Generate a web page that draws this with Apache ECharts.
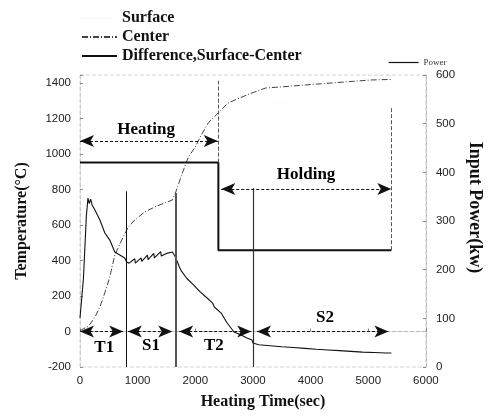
<!DOCTYPE html>
<html>
<head>
<meta charset="utf-8">
<script src="https://cdn.jsdelivr.net/npm/echarts@6/dist/echarts.min.js"></script>
<style>
html,body{margin:0;padding:0;background:#fff;}
#chart{width:492px;height:420px;}
</style>
</head>
<body>
<div id="chart"></div>
<script>
// ---------- data (time in sec, temperature in °C, power in kW) ----------
const xTicks = [0, 1000, 2000, 3000, 4000, 5000, 6000];
const tempTicks = [-200, 0, 200, 400, 600, 800, 1000, 1200, 1400];
const powerTicks = [0, 100, 200, 300, 400, 500, 600];

const surfaceData = [
  [0, 80], [150, 790], [400, 800], [800, 960], [1200, 1080], [1660, 1220],
  [2000, 1290], [2400, 1300], [3000, 1280], [4000, 1290], [5400, 1296]
];

const centerData = [
  [0, 5], [150, 30], [260, 82], [345, 138], [430, 217], [517, 307], [603, 431],
  [724, 515], [828, 583], [948, 628], [1121, 673], [1293, 701], [1466, 724],
  [1603, 741], [1655, 780], [1776, 893], [1879, 983], [2000, 1039], [2086, 1096],
  [2224, 1175], [2397, 1231], [2569, 1287], [2810, 1321], [2983, 1344],
  [3224, 1372], [3500, 1378], [3914, 1389], [4362, 1400], [5052, 1417], [5400, 1420]
];

const differenceData = [
  [0, 76], [60, 300], [110, 650], [138, 752], [160, 720], [185, 745], [210, 713],
  [259, 684], [345, 628], [431, 555], [517, 515], [603, 448], [690, 431],
  [776, 414], [810, 392], [850, 385], [950, 410], [960, 385], [1060, 415],
  [1070, 395], [1170, 430], [1180, 405], [1280, 440], [1290, 415], [1400, 450],
  [1410, 425], [1500, 440], [1603, 448], [1655, 420], [1724, 363], [1760, 340],
  [1780, 350], [1850, 300], [1870, 310], [1960, 265], [1980, 275], [2080, 225],
  [2100, 235], [2200, 190], [2220, 200], [2300, 160], [2330, 138], [2448, 104],
  [2552, 48], [2672, -3], [2793, -20], [2897, -37], [2983, -48], [3000, -65],
  [3100, -75], [3110, -68], [3300, -80], [3310, -72], [3500, -86], [3510, -78],
  [3700, -90], [3710, -82], [3900, -95], [3910, -86], [4100, -100], [4110, -91],
  [4300, -104], [4310, -95], [4500, -108], [4510, -99], [4700, -112], [4710, -103],
  [4900, -116], [4910, -107], [5100, -118], [5110, -110], [5300, -121], [5310, -114],
  [5400, -121]
];

const powerData = [[0, 420], [2400, 420], [2400, 240], [5400, 240]];

// arrows: [startTime, endTime, temperatureLevel]
const arrowSpans = [
  [0, 2390, 1073], [2450, 5400, 803],
  [0, 750, 0], [830, 1600, 0], [1720, 2970, 0], [3070, 5350, 0]
];
// phase labels: [text, time, temperature]
const phaseLabels = [
  ['Heating', 1155, 1135], ['Holding', 3930, 880],
  ['T1', 430, -92], ['S1', 1240, -85], ['T2', 2330, -85], ['S2', 4260, 78]
];
// solid dividers on temperature axis: [time, fromTemp, toTemp, width, colour]
const tempDividers = [
  [800, -200, 790, 1, '#111'], [1660, -200, 780, 2, '#555'], [3000, -200, 808, 1.2, '#333']
];
// dashed dividers on power axis: [time, fromPower, toPower]
const powerDividers = [[2400, 420, 588], [5400, 240, 534]];

// ---------- chart ----------
const serif = '"Liberation Serif", "Times New Roman", serif';
const sans = '"Liberation Sans", Arial, sans-serif';
const chart = echarts.init(document.getElementById('chart'), null, {renderer: 'canvas'});
const plain = v => String(v);

const option = {
  animation: false,
  backgroundColor: '#fff',
  grid: {left: 80, right: 64, top: 75, bottom: 53, show: true, borderColor: '#d4d4d4', borderWidth: 1, borderType: 'dashed'},
  legend: [
    {
      orient: 'vertical', left: 76, top: 5, itemGap: 3, itemWidth: 35, itemHeight: 14,
      data: [{name: 'Surface'}, 'Center', 'Difference,Surface-Center'],
      itemStyle: {opacity: 0},
      textStyle: {fontFamily: serif, fontWeight: 'bold', fontSize: 16, color: '#111'}
    },
    {
      left: 383, top: 53, itemWidth: 30, itemHeight: 10,
      data: ['Power'],
      itemStyle: {opacity: 0},
      lineStyle: {width: 1.2},
      textStyle: {fontFamily: serif, fontSize: 9, color: '#333'}
    }
  ],
  xAxis: {
    type: 'value', min: xTicks[0], max: xTicks[xTicks.length - 1], interval: xTicks[1] - xTicks[0],
    name: 'Heating Time(sec)', nameLocation: 'middle', nameGap: 27,
    nameTextStyle: {fontFamily: serif, fontWeight: 'bold', fontSize: 16, color: '#111', padding: [0, 0, 0, 20]},
    axisLine: {show: true, lineStyle: {color: '#bbb', type: 'dashed'}},
    axisTick: {inside: true, length: 3, lineStyle: {color: '#888'}},
    axisLabel: {fontFamily: sans, fontSize: 11.5, color: '#222', margin: 8, formatter: plain},
    splitLine: {show: false}
  },
  yAxis: [
    {
      type: 'value', min: tempTicks[0], max: 1445, interval: tempTicks[1] - tempTicks[0],
      name: 'Temperature(°C)', nameLocation: 'middle', nameGap: 50, nameRotate: 90,
      nameTextStyle: {fontFamily: serif, fontWeight: 'bold', fontSize: 16, color: '#111'},
      axisLine: {show: true, lineStyle: {color: '#ccc', type: 'dashed'}},
      axisTick: {inside: true, length: 3, lineStyle: {color: '#888'}},
      axisLabel: {fontFamily: sans, fontSize: 11.5, color: '#222', margin: 9,
        formatter: v => (tempTicks.indexOf(v) >= 0 ? String(v) : '')},
      splitLine: {show: false}
    },
    {
      type: 'value', min: powerTicks[0], max: powerTicks[powerTicks.length - 1], interval: powerTicks[1] - powerTicks[0],
      position: 'right',
      name: 'Input Power(kw)      ', nameLocation: 'middle', nameGap: 40, nameRotate: -90,
      nameTextStyle: {fontFamily: serif, fontWeight: 'bold', fontSize: 18, color: '#111'},
      axisLine: {show: true, lineStyle: {color: '#bbb', type: 'dashed'}},
      axisTick: {inside: true, length: 3, lineStyle: {color: '#888'}},
      axisLabel: {fontFamily: sans, fontSize: 11.5, color: '#222', margin: 10, formatter: plain},
      splitLine: {show: false}
    }
  ],
  series: [
    {
      name: 'Surface', type: 'line', yAxisIndex: 0, showSymbol: false, symbol: 'none',
      data: surfaceData, color: '#f6f6f6',
      lineStyle: {width: 1, color: '#f6f6f6', type: 'dotted', opacity: 0.6}
    },
    {
      name: 'Center', type: 'line', yAxisIndex: 0, showSymbol: false, symbol: 'none',
      data: centerData, color: '#444',
      lineStyle: {width: 1, color: '#444', type: [6, 2, 1, 2]}
    },
    {
      name: 'Difference,Surface-Center', type: 'line', yAxisIndex: 0, showSymbol: false, symbol: 'none',
      data: differenceData, color: '#111',
      lineStyle: {width: 1.1, color: '#111'}
    },
    {
      name: 'Power', type: 'line', yAxisIndex: 1, showSymbol: false, symbol: 'none',
      data: powerData, color: '#111',
      lineStyle: {width: 2, color: '#111'}
    },
    {
      name: 'dividers', type: 'line', yAxisIndex: 0, data: [], silent: true,
      markLine: {
        silent: true, symbol: ['none', 'none'], label: {show: false},
        data: tempDividers.map(d => [
          {coord: [d[0], d[1]], lineStyle: {width: d[3], color: d[4], type: 'solid'}},
          {coord: [d[0], d[2]]}
        ])
      }
    },
    {
      name: 'powerDividers', type: 'line', yAxisIndex: 1, data: [], silent: true,
      markLine: {
        silent: true, symbol: ['none', 'none'], label: {show: false},
        lineStyle: {width: 1, color: '#555', type: [4, 2]},
        data: powerDividers.map(d => [{coord: [d[0], d[1]]}, {coord: [d[0], d[2]]}])
      }
    },
    {
      name: 'arrows', type: 'line', yAxisIndex: 0, data: [], silent: true,
      markLine: {
        silent: true, symbol: ['arrow', 'arrow'], symbolSize: [9, 14], label: {show: false},
        lineStyle: {width: 1, color: '#111', type: [3, 2]},
        itemStyle: {color: '#111'},
        data: arrowSpans.map(a => [{coord: [a[0], a[2]]}, {coord: [a[1], a[2]]}])
      }
    },
    {
      name: 'phases', type: 'scatter', yAxisIndex: 0, symbolSize: 1, silent: true,
      itemStyle: {color: 'rgba(0,0,0,0)'},
      data: phaseLabels.map(p => ({name: p[0], value: [p[1], p[2]]})),
      label: {show: true, position: [0, 0], align: 'center', verticalAlign: 'middle',
        formatter: p => p.name, textBorderWidth: 0, opacity: 1,
        fontFamily: serif, fontWeight: 'bold', fontSize: 17, color: '#000'}
    }
  ]
};
chart.setOption(option);
</script>
</body>
</html>
